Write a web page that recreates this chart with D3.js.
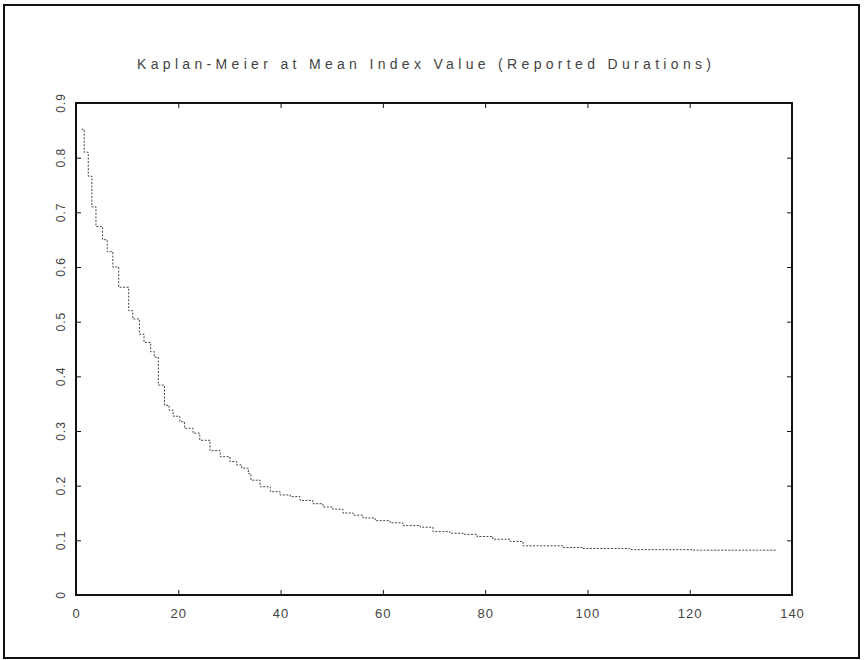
<!DOCTYPE html>
<html>
<head>
<meta charset="utf-8">
<script src="https://cdn.jsdelivr.net/npm/d3@7"></script>
<style>
  body { margin: 0; background: #fff; }
  svg { display: block; }
</style>
</head>
<body>
<div id="chart"></div>
<script>
/////////////////////////////////////
/// data
/////////////////////////////////////

var titleText = "Kaplan-Meier at Mean Index Value (Reported Durations)";

// step times (duration) and survival value after each step
var stepTimes = [1.1, 1.6, 2.4, 3.1, 3.9, 5.2, 6.1, 7.2, 8.35, 10.3, 11.1, 12.4, 13.3, 14.6, 15.3,
  16.1, 17.3, 18.2, 19.0, 20.3, 21.2, 22.9, 24.2, 26.2, 28.2, 30.1, 31.4, 32.4, 33.7, 34.2,
  36.0, 38.0, 39.9, 41.9, 43.8, 46.3, 48.3, 50.2, 52.2, 54.2, 56.1, 58.5, 61.4, 63.9, 67.3,
  69.8, 73.1, 75.7, 78.4, 81.5, 84.9, 87.4, 95.2, 99.1, 108.3, 120.6];
var survival = [0.852, 0.81, 0.766, 0.71, 0.674, 0.65, 0.628, 0.6, 0.563, 0.52, 0.505, 0.477, 0.462, 0.445, 0.435,
  0.384, 0.347, 0.338, 0.327, 0.317, 0.305, 0.296, 0.283, 0.264, 0.253, 0.244, 0.238, 0.232, 0.222, 0.21,
  0.198, 0.189, 0.183, 0.18, 0.173, 0.167, 0.161, 0.157, 0.15, 0.146, 0.141, 0.136, 0.132, 0.127, 0.124,
  0.116, 0.113, 0.111, 0.107, 0.102, 0.098, 0.09, 0.087, 0.085, 0.083, 0.082];
var lastTime = 137;

var xTicks = [0, 20, 40, 60, 80, 100, 120, 140];
var yTicks = [0, 0.1, 0.2, 0.3, 0.4, 0.5, 0.6, 0.7, 0.8, 0.9];

/////////////////////////////////////
/// drawing
/////////////////////////////////////

var width = 865, height = 660;
var box = { left: 76, top: 103, right: 792, bottom: 595 };
var ink = "#111";
var textInk = "#444";
var font = "Liberation Sans, Arial, sans-serif";

var svg = d3.select("#chart").append("svg")
  .attr("width", width)
  .attr("height", height);

// outer frame of the figure
svg.append("rect")
  .attr("x", 4).attr("y", 5)
  .attr("width", 855).attr("height", 653)
  .attr("fill", "none")
  .attr("stroke", ink)
  .attr("stroke-width", 2);

var xScale = d3.scaleLinear().domain([0, 140]).range([box.left, box.right]);
var yScale = d3.scaleLinear().domain([0, 0.9]).range([box.bottom, box.top]);

// axes, ticks pointing inward on all four sides
var tickLen = 5;
function styleAxis(g) {
  g.select(".domain").remove();
  g.selectAll(".tick line").attr("stroke", ink).attr("stroke-width", 1);
}

svg.append("g")
  .attr("transform", "translate(0," + box.bottom + ")")
  .call(d3.axisBottom(xScale).tickValues(xTicks).tickSize(-tickLen).tickPadding(14).tickFormat(d3.format("d")))
  .call(styleAxis)
  .selectAll("text")
  .attr("fill", textInk)
  .attr("font-family", font)
  .attr("font-size", 13)
  .attr("letter-spacing", 1);

svg.append("g")
  .attr("transform", "translate(0," + box.top + ")")
  .call(d3.axisTop(xScale).tickValues(xTicks).tickSize(-tickLen).tickFormat(""))
  .call(styleAxis);

svg.append("g")
  .attr("transform", "translate(" + box.left + ",0)")
  .call(d3.axisLeft(yScale).tickValues(yTicks).tickSize(-tickLen).tickFormat(""))
  .call(styleAxis);

svg.append("g")
  .attr("transform", "translate(" + box.right + ",0)")
  .call(d3.axisRight(yScale).tickValues(yTicks).tickSize(-tickLen).tickFormat(""))
  .call(styleAxis);

// y tick labels are rotated in the original
svg.append("g").selectAll("text")
  .data(yTicks)
  .enter().append("text")
  .attr("transform", function(d) {
    return "translate(" + (box.left - 11) + "," + yScale(d) + ") rotate(-90)";
  })
  .attr("text-anchor", "middle")
  .attr("fill", textInk)
  .attr("font-family", font)
  .attr("font-size", 12)
  .attr("letter-spacing", 1)
  .text(function(d) { return d === 0 ? "0" : d3.format(".1f")(d); });

// plot box
svg.append("rect")
  .attr("x", box.left).attr("y", box.top)
  .attr("width", box.right - box.left)
  .attr("height", box.bottom - box.top)
  .attr("fill", "none")
  .attr("stroke", ink)
  .attr("stroke-width", 2);

// title
svg.append("text")
  .attr("x", (box.left + box.right) / 2 - 10)
  .attr("y", 69)
  .attr("text-anchor", "middle")
  .attr("fill", textInk)
  .attr("font-family", font)
  .attr("font-size", 14)
  .attr("textLength", 574)
  .attr("lengthAdjust", "spacing")
  .text(titleText);

// Kaplan-Meier stairs
var points = stepTimes.map(function(t, i) { return { t: t, s: survival[i] }; });
points.push({ t: lastTime, s: survival[survival.length - 1] });

var stairs = d3.line()
  .x(function(d) { return xScale(d.t); })
  .y(function(d) { return yScale(d.s); })
  .curve(d3.curveStepAfter);

svg.append("path")
  .datum(points)
  .attr("d", stairs)
  .attr("fill", "none")
  .attr("stroke", "#444")
  .attr("stroke-width", 1)
  .attr("stroke-dasharray", "2,1.5");
</script>
</body>
</html>
